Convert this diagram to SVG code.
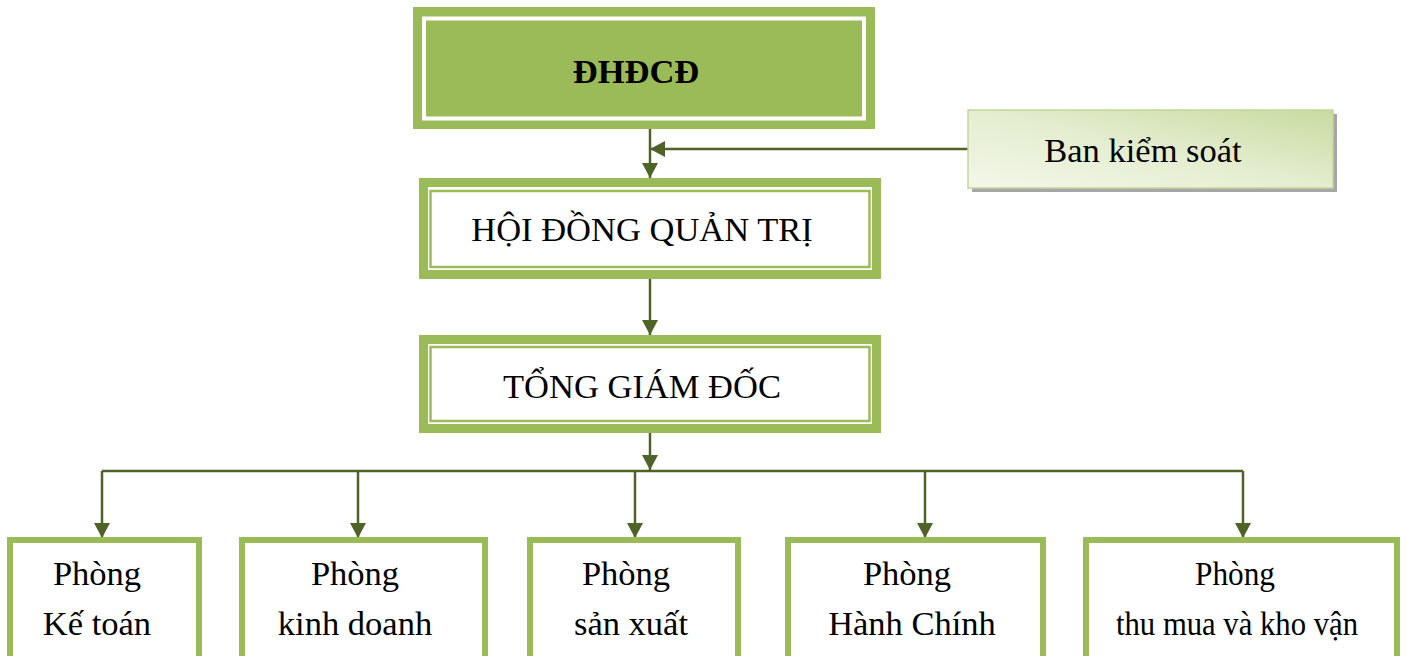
<svg xmlns="http://www.w3.org/2000/svg" width="1407" height="656" viewBox="0 0 1407 656">
<defs>
<style>
.t{font-family:"Liberation Serif","Times New Roman",serif;font-size:34.5px;fill:#000;text-anchor:middle}
.b{font-weight:bold}
.thick{fill:#fff;stroke:#9bbb59;stroke-width:9}
.thin{fill:none;stroke:#9bbb59;stroke-width:2.5}
.dept{fill:#fff;stroke:#9bbb59;stroke-width:6}
.c{fill:none;stroke:#4f6228;stroke-width:2.5}
</style>
<marker id="ah" viewBox="0 0 15 16" refX="15" refY="8" markerWidth="15" markerHeight="16" markerUnits="userSpaceOnUse" orient="auto">
<path d="M0,0 L15,8 L0,16 z" fill="#4f6228"/>
</marker>
<linearGradient id="bg" x1="0" y1="1" x2="1" y2="0">
<stop offset="0" stop-color="#f3f7ea"/>
<stop offset="0.5" stop-color="#e4edcf"/>
<stop offset="1" stop-color="#c8daa0"/>
</linearGradient>
</defs>

<g id="connectors">
<path class="c" d="M650,116 V178" marker-end="url(#ah)"/>
<path class="c" d="M968,149 H650" marker-end="url(#ah)"/>
<path class="c" d="M650,279 V335" marker-end="url(#ah)"/>
<path class="c" d="M650,430 V470" marker-end="url(#ah)"/>
<path class="c" d="M102,471 H1243"/>
<path class="c" d="M102,471 V538" marker-end="url(#ah)"/>
<path class="c" d="M358,471 V538" marker-end="url(#ah)"/>
<path class="c" d="M635,471 V538" marker-end="url(#ah)"/>
<path class="c" d="M925,471 V538" marker-end="url(#ah)"/>
<path class="c" d="M1243,471 V538" marker-end="url(#ah)"/>
</g>

<g id="dhdcd">
<rect x="413" y="7" width="462" height="122" fill="#9bbb59"/>
<rect x="424" y="18.5" width="440" height="100" fill="none" stroke="#fff" stroke-width="4"/>
<text class="t b" x="636" y="83">ĐHĐCĐ</text>
</g>

<g id="bks">
<rect x="972" y="114" width="365" height="78" fill="#a6a6a6"/>
<rect x="968" y="110" width="365" height="78" fill="url(#bg)" stroke="#c3d69b" stroke-width="1.5"/>
<text class="t" x="1143" y="162">Ban kiểm soát</text>
</g>

<g id="hdqt">
<rect class="thick" x="423.5" y="182.5" width="453" height="92"/>
<rect class="thin" x="430.5" y="191" width="439" height="76"/>
<text class="t" x="642" y="241">HỘI ĐỒNG QUẢN TRỊ</text>
</g>

<g id="tgd">
<rect class="thick" x="423.5" y="339.5" width="453" height="89"/>
<rect class="thin" x="430.5" y="347" width="439" height="74"/>
<text class="t" x="642" y="398">TỔNG GIÁM ĐỐC</text>
</g>

<g id="ketoan">
<rect class="dept" x="10" y="540" width="189" height="130"/>
<text class="t" x="97" y="585">Phòng</text>
<text class="t" x="97" y="635">Kế toán</text>
</g>

<g id="kinhdoanh">
<rect class="dept" x="242" y="540" width="243" height="130"/>
<text class="t" x="355" y="585">Phòng</text>
<text class="t" x="355" y="635">kinh doanh</text>
</g>

<g id="sanxuat">
<rect class="dept" x="530" y="540" width="208" height="130"/>
<text class="t" x="626" y="585">Phòng</text>
<text class="t" x="631" y="635">sản xuất</text>
</g>

<g id="hanhchinh">
<rect class="dept" x="788" y="540" width="255" height="130"/>
<text class="t" x="907" y="585">Phòng</text>
<text class="t" x="912" y="635">Hành Chính</text>
</g>

<g id="thumua">
<rect class="dept" x="1086" y="540" width="311" height="130"/>
<text class="t" x="1235" y="585" textLength="80" lengthAdjust="spacingAndGlyphs">Phòng</text>
<text class="t" x="1237" y="635" textLength="242" lengthAdjust="spacingAndGlyphs">thu mua và kho vận</text>
</g>
</svg>
